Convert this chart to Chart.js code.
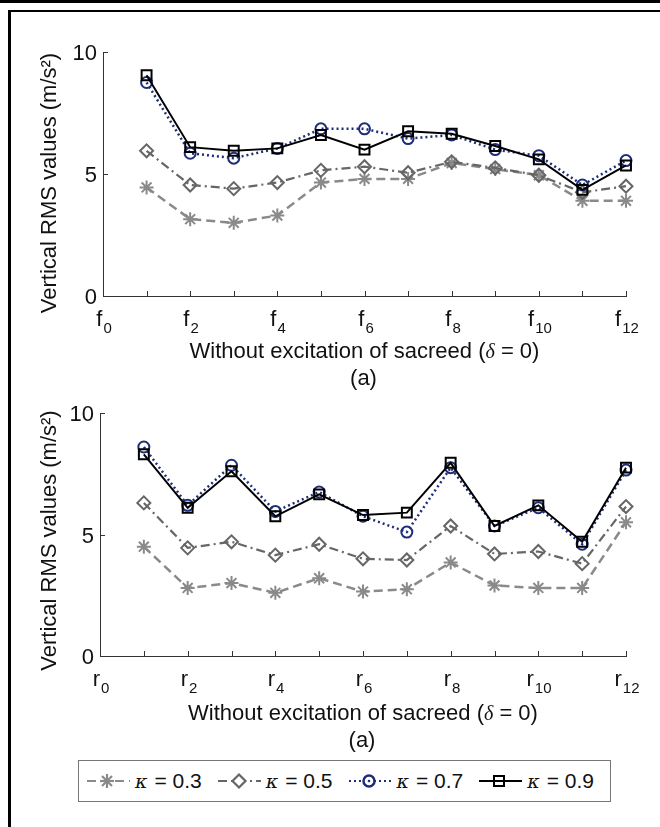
<!DOCTYPE html>
<html>
<head>
<meta charset="utf-8">
<script src="https://cdn.jsdelivr.net/npm/chart.js@4.4.1/dist/chart.umd.min.js"></script>
<style>
body { margin: 0; width: 660px; height: 827px; background: #fff; position: relative; overflow: hidden; font-family: "Liberation Sans", Arial, sans-serif; }
#topRule { position: absolute; left: 0; top: 0; width: 660px; height: 3px; background: #000; }
#frame { position: absolute; left: 8px; top: 10px; width: 700px; height: 900px; border-top: 2px solid #000; border-left: 3px solid #000; }
#chartF { position: absolute; left: 0; top: 0; }
#chartR { position: absolute; left: 0; top: 390px; }
#legend { position: absolute; left: 78px; top: 760px; width: 533px; height: 42px; border: 1px solid #777; display: flex; align-items: center; padding-left: 8px; box-sizing: border-box; }
.item { display: flex; align-items: center; width: 132px; font-size: 21px; color: #111; white-space: nowrap; }
.item svg { margin-right: 5px; }
.item i { font-family: "DejaVu Serif", serif; font-size: 19px; margin-right: 7px; }
</style>
</head>
<body>
<div id="topRule"></div>
<div id="frame"></div>
<canvas id="chartF" width="660" height="390"></canvas>
<canvas id="chartR" width="660" height="370"></canvas>
<div id="legend"></div>

<script>
// Data (positions 1..12)
const positions = [1, 2, 3, 4, 5, 6, 7, 8, 9, 10, 11, 12];
const kappaLabels = ['0.3', '0.5', '0.7', '0.9'];

// (top) f points
const fK03 = [4.45, 3.15, 3.0, 3.3, 4.65, 4.8, 4.8, 5.45, 5.2, 4.95, 3.9, 3.9];
const fK05 = [5.95, 4.55, 4.4, 4.65, 5.15, 5.3, 5.05, 5.5, 5.25, 4.95, 4.25, 4.5];
const fK07 = [8.75, 5.85, 5.65, 6.05, 6.85, 6.85, 6.45, 6.6, 6.0, 5.75, 4.55, 5.55];
const fK09 = [9.05, 6.1, 5.95, 6.05, 6.6, 6.0, 6.75, 6.65, 6.15, 5.6, 4.35, 5.35];

// (bottom) r points
const rK03 = [4.5, 2.8, 3.0, 2.6, 3.2, 2.65, 2.75, 3.85, 2.9, 2.8, 2.8, 5.5];
const rK05 = [6.3, 4.45, 4.7, 4.15, 4.6, 4.0, 3.95, 5.35, 4.2, 4.3, 3.8, 6.15];
const rK07 = [8.6, 6.2, 7.85, 5.95, 6.75, 5.75, 5.1, 7.75, 5.35, 6.1, 4.6, 7.65];
const rK09 = [8.3, 6.1, 7.6, 5.75, 6.65, 5.8, 5.9, 7.95, 5.35, 6.2, 4.7, 7.75];

const yTicks = [0, 5, 10];
const xTickValues = [0, 1, 2, 3, 4, 5, 6, 7, 8, 9, 10, 11, 12];
const xTitle = ['Without excitation of sacreed (', '\u03b4', ' = 0)'];
const yTitle = 'Vertical RMS values (m/s\u00b2)';

const NAVY = '#1e2d78';
const styles = [
  { color: '#8a8a8a', dash: [9, 5], point: 'star', radius: 7, width: 2.5 },
  { color: '#666666', dash: [9, 4, 2, 4], point: 'rectRot', radius: 6.5, width: 2.2 },
  { color: NAVY, dash: [2, 3], point: 'circle', radius: 5.5, width: 2.5 },
  { color: '#000000', dash: [], point: 'rect', radius: 7, width: 2 },
];

function makeDatasets(series) {
  return series.map((vals, i) => ({
    label: '\u03ba = ' + kappaLabels[i],
    data: positions.map((p, j) => ({ x: p, y: vals[j] })),
    borderColor: styles[i].color,
    borderWidth: styles[i].width,
    borderDash: styles[i].dash,
    pointStyle: styles[i].point,
    pointRadius: styles[i].radius,
    pointBorderWidth: 2,
    pointBorderColor: styles[i].color,
    pointBackgroundColor: 'rgba(255,255,255,0)',
    tension: 0,
    clip: false,
    order: 4 - i,  // black on top
  }));
}

// draws inward ticks, subscript tick labels and the titles
const axisDecor = {
  id: 'axisDecor',
  afterDraw(chart, args, opts) {
    const ctx = chart.ctx;
    const xs = chart.scales.x, ys = chart.scales.y;
    const area = chart.chartArea;
    const SANS = '"Liberation Sans", Arial, sans-serif';
    ctx.save();
    ctx.strokeStyle = '#333';
    ctx.lineWidth = 1;
    ctx.fillStyle = '#111';

    // y ticks + labels
    ctx.font = '22px ' + SANS;
    ctx.textAlign = 'right';
    ctx.textBaseline = 'middle';
    yTicks.forEach(v => {
      const y = Math.round(ys.getPixelForValue(v)) + 0.5;
      ctx.beginPath();
      ctx.moveTo(area.left, y);
      ctx.lineTo(area.left + 5, y);
      ctx.stroke();
      ctx.fillText(String(v), area.left - 6, y + 1);
    });

    // x ticks + labels with subscripts
    ctx.textBaseline = 'alphabetic';
    xTickValues.forEach(v => {
      const x = Math.round(xs.getPixelForValue(v)) + 0.5;
      ctx.beginPath();
      ctx.moveTo(x, area.bottom);
      ctx.lineTo(x, area.bottom - 5);
      ctx.stroke();
      if (v % 2 === 0) {
        ctx.font = '22px ' + SANS;
        const wMain = ctx.measureText(opts.prefix).width;
        ctx.font = '15px ' + SANS;
        const wSub = ctx.measureText(String(v)).width;
        const start = x - (wMain + wSub) / 2;
        ctx.textAlign = 'left';
        ctx.font = '22px ' + SANS;
        ctx.fillText(opts.prefix, start, area.bottom + 30);
        ctx.font = '15px ' + SANS;
        ctx.fillText(String(v), start + wMain + 1, area.bottom + 37);
      }
    });

    // x title with italic delta
    const fonts = ['22px ' + SANS, 'italic 20px "Liberation Serif", serif', '22px ' + SANS];
    let total = 0;
    const widths = xTitle.map((t, i) => { ctx.font = fonts[i]; const w = ctx.measureText(t).width; total += w; return w; });
    let cx = (area.left + area.right) / 2 - total / 2;
    ctx.textAlign = 'left';
    xTitle.forEach((t, i) => { ctx.font = fonts[i]; ctx.fillText(t, cx, area.bottom + opts.titleGap); cx += widths[i]; });

    // panel tag
    ctx.textAlign = 'center';
    ctx.font = '22px ' + SANS;
    ctx.fillText('(a)', (area.left + area.right) / 2 - 1, area.bottom + opts.tagGap);

    // y title
    ctx.save();
    ctx.translate(opts.yTitleX, (area.top + area.bottom) / 2 + opts.yTitleShift);
    ctx.rotate(-Math.PI / 2);
    ctx.textAlign = 'center';
    ctx.font = '22px ' + SANS;
    ctx.fillText(yTitle, 0, 0);
    ctx.restore();

    ctx.restore();
  }
};

function buildChart(canvasId, series, pad, decor) {
  return new Chart(document.getElementById(canvasId).getContext('2d'), {
    type: 'line',
    data: { datasets: makeDatasets(series) },
    options: {
      responsive: false,
      animation: false,
      events: [],
      layout: { padding: pad },
      plugins: { legend: { display: false }, title: { display: false }, tooltip: { enabled: false }, axisDecor: decor },
      scales: {
        x: {
          type: 'linear', min: 0, max: 12,
          grid: { display: false },
          border: { display: true, color: '#333', width: 1 },
          ticks: { display: false },
          afterFit(s) { s.height = 0; },
        },
        y: {
          min: 0, max: 10,
          grid: { display: false },
          border: { display: true, color: '#333', width: 1 },
          ticks: { display: false },
          afterFit(s) { s.width = 0; },
        },
      },
    },
    plugins: [axisDecor],
  });
}

buildChart('chartF', [fK03, fK05, fK07, fK09],
  { left: 103, right: 34, top: 52, bottom: 94 },
  { prefix: 'f', titleGap: 62, tagGap: 89, yTitleX: 56, yTitleShift: 9 });

buildChart('chartR', [rK03, rK05, rK07, rK09],
  { left: 100, right: 34, top: 23, bottom: 104 },
  { prefix: 'r', titleGap: 64, tagGap: 91, yTitleX: 56, yTitleShift: 6 });

// legend (html, samples in svg)
const legendEl = document.getElementById('legend');
const markerSvg = [
  '<g stroke="#8a8a8a" stroke-width="2.2"><line x1="13" y1="10" x2="27" y2="10"/><line x1="20" y1="3" x2="20" y2="17"/><line x1="15" y1="5" x2="25" y2="15"/><line x1="15" y1="15" x2="25" y2="5"/></g>',
  '<polygon points="21,3.5 27.5,10 21,16.5 14.5,10" fill="#fff" stroke="#666" stroke-width="2.2"/>',
  '<circle cx="20" cy="10" r="5.5" fill="#fff" stroke="' + NAVY + '" stroke-width="2.5"/><circle cx="20" cy="10" r="1.3" fill="' + NAVY + '"/>',
  '<rect x="15" y="5" width="10" height="10" fill="#fff" stroke="#000" stroke-width="2"/><line x1="16" y1="10" x2="24" y2="10" stroke="#000" stroke-width="2"/>',
];
kappaLabels.forEach((k, i) => {
  const s = styles[i];
  const item = document.createElement('div');
  item.className = 'item';
  item.innerHTML =
    '<svg width="43" height="20" viewBox="0 0 43 20">' +
    '<line x1="0" y1="10" x2="43" y2="10" stroke="' + s.color + '" stroke-width="2.2" stroke-dasharray="' + (s.dash.length ? s.dash.join(',') : 'none') + '"/>' +
    markerSvg[i] + '</svg>' +
    '<i>\u03ba</i><span>= ' + k + '</span>';
  legendEl.appendChild(item);
});
</script>
</body>
</html>
